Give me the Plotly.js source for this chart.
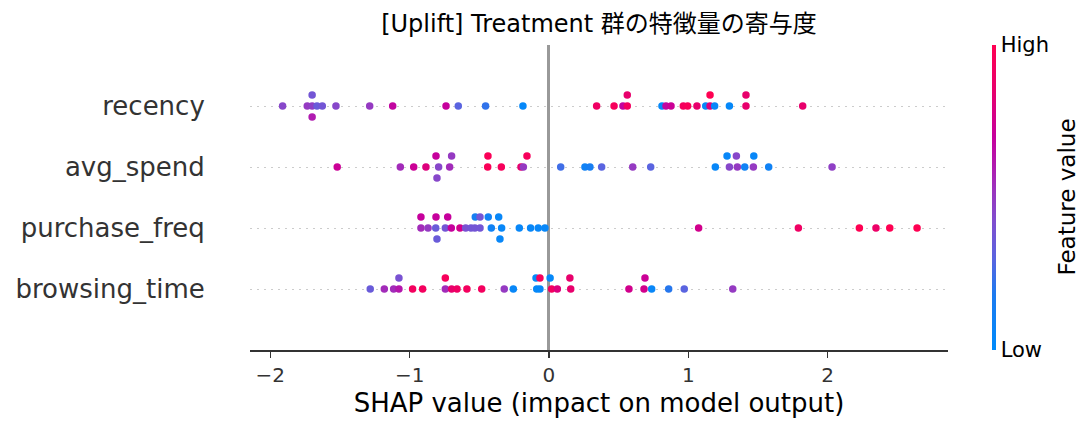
<!DOCTYPE html>
<html>
<head>
<meta charset="utf-8">
<script src="https://cdn.plot.ly/plotly-3.0.1.min.js"></script>
<style>html,body{margin:0;padding:0;background:#fff;}#chart{width:1092px;height:432px;}</style>
</head>
<body>
<div id="chart"></div>
<script>
// Features, top row first
const features = ['recency', 'avg_spend', 'purchase_freq', 'browsing_time'];

// SHAP values per feature
const recencyShap = [-1.912,-1.735,-1.700,-1.700,-1.700,-1.665,-1.627,-1.529,-1.287,-1.122,-0.739,-0.651,-0.455,-0.187,0.342,0.467,0.531,0.562,0.562,0.811,0.840,0.876,0.964,0.995,1.062,1.125,1.156,1.156,1.189,1.295,1.414,1.414,1.821];
const recencyFeat = [0.45,0.5,0.48,0.38,0.6,0.35,0.38,0.45,0.5,0.68,0.7,0.3,0.22,0.03,0.9,0.95,0.68,0.92,0.85,0.03,0.68,0.72,0.93,0.96,0.85,0.05,0.8,1.0,0.05,0.03,0.85,0.85,0.85];

const avgSpendShap = [-1.520,-1.067,-0.971,-0.883,-0.792,-0.811,-0.804,-0.713,-0.699,-0.440,-0.438,-0.342,-0.201,-0.184,-0.158,0.084,0.258,0.294,0.378,0.601,0.730,1.194,1.295,1.278,1.352,1.345,1.405,1.467,1.470,1.577,2.032];
const avgSpendFeat = [0.72,0.55,0.72,0.8,0.45,0.7,0.45,0.55,0.5,0.97,0.97,0.95,0.85,0.5,0.95,0.25,0.1,0.15,0.3,0.5,0.3,0.05,0.45,0.05,0.5,0.45,0.1,0.5,0.05,0.1,0.48];

const purchaseFreqShap = [-0.919,-0.919,-0.868,-0.813,-0.811,-0.804,-0.744,-0.727,-0.701,-0.639,-0.598,-0.560,-0.532,-0.529,-0.495,-0.495,-0.414,-0.436,-0.340,-0.361,-0.352,-0.213,-0.132,-0.077,-0.029,1.074,1.790,2.228,2.347,2.446,2.642];
const purchaseFreqFeat = [0.55,0.7,0.5,0.35,0.7,0.35,0.38,0.7,0.7,0.75,0.4,0.38,0.38,0.15,0.38,0.38,0.1,0.1,0.05,0.05,0.05,0.05,0.05,0.05,0.05,0.75,0.9,1.0,0.88,1.0,1.0];

const browsingTimeShap = [-1.283,-1.182,-1.115,-1.077,-1.077,-0.979,-0.907,-0.744,-0.744,-0.699,-0.660,-0.589,-0.483,-0.321,-0.256,-0.088,-0.093,-0.065,-0.065,0.019,0.008,0.060,0.156,0.150,0.574,0.682,0.689,0.737,0.859,0.971,1.319];
const browsingTimeFeat = [0.35,0.55,0.55,0.62,0.4,0.93,0.93,0.55,0.95,0.85,0.9,0.93,0.93,0.5,0.05,0.03,0.03,0.03,0.95,0.92,0.03,0.8,0.85,0.85,0.75,0.75,0.72,0.05,0.2,0.3,0.5];

const xTickVals = [-2, -1, 0, 1, 2];
const colorTickText = ['Low', 'High'];
const titleText = '[Uplift] Treatment 群の特徴量の寄与度';
const xTitle = 'SHAP value (impact on model output)';
const colorTitle = 'Feature value';

const shapByFeature = [recencyShap, avgSpendShap, purchaseFreqShap, browsingTimeShap];
const featByFeature = [recencyFeat, avgSpendFeat, purchaseFreqFeat, browsingTimeFeat];

// shap-style beeswarm jitter (deterministic order)
function beeswarm(vals, rowHeight) {
  const N = vals.length, nbins = 100;
  const mn = Math.min(...vals), mx = Math.max(...vals);
  const quant = vals.map(v => Math.round(nbins * (v - mn) / (mx - mn + 1e-8)));
  const inds = [...Array(N).keys()].sort((a, b) => (quant[a] - quant[b]) || (a - b));
  let layer = 0, last = -1;
  const ys = new Array(N).fill(0);
  for (const i of inds) {
    if (quant[i] !== last) layer = 0;
    ys[i] = Math.ceil(layer / 2) * ((layer % 2) * 2 - 1);
    layer++;
    last = quant[i];
  }
  const m = Math.max(...ys.map(y => y + 1));
  return ys.map(y => y * 0.9 * (rowHeight / m));
}

const nF = features.length;
const traces = features.map((f, i) => {
  const pos = nF - 1 - i;
  const off = beeswarm(shapByFeature[i], 0.4);
  return {
    type: 'scatter', mode: 'markers', name: f,
    x: shapByFeature[i],
    y: off.map(o => pos + o),
    marker: { size: 7.5, color: featByFeature[i], coloraxis: 'coloraxis', line: { width: 0 } },
    hoverinfo: 'x', showlegend: false
  };
});

const colorscale = [
  [0, '#008bfb'], [0.18, '#1c7bf0'], [0.3, '#5a64e0'], [0.42, '#7f4ecf'],
  [0.52, '#9a35bf'], [0.6, '#b01bb0'], [0.7, '#c6009c'], [0.85, '#e8006c'], [1, '#ff0052']
];

const layout = {
  width: 1092, height: 432,
  paper_bgcolor: '#ffffff', plot_bgcolor: '#ffffff',
  margin: { l: 250, r: 144, t: 45, b: 82 },
  font: { family: 'DejaVu Sans, "Noto Sans CJK JP", sans-serif', color: '#333333' },
  title: {
    text: titleText, x: 0.5, xref: 'paper', y: 1 - 24 / 432, yref: 'container', yanchor: 'middle',
    font: { size: 24, color: '#000000', family: 'DejaVu Sans, "Noto Sans CJK JP", sans-serif' }
  },
  xaxis: {
    range: [-2.146, 2.864], tickvals: xTickVals, zeroline: true, zerolinecolor: '#999999', zerolinewidth: 3,
    showgrid: false, showline: true, linecolor: '#333333', linewidth: 1.5,
    ticks: 'outside', ticklen: 6, tickwidth: 1.5, tickcolor: '#333333',
    tickfont: { size: 20, color: '#333333' },
    title: { text: xTitle, font: { size: 26, color: '#000000' }, standoff: 8 }
  },
  yaxis: {
    range: [-1, nF], tickvals: features.map((f, i) => nF - 1 - i), ticktext: features,
    showgrid: true, gridcolor: '#cccccc', griddash: '2px,5px', gridwidth: 1,
    zeroline: false, showline: false, ticks: 'outside', ticklen: 39, tickcolor: 'rgba(0,0,0,0)',
    tickfont: { size: 26, color: '#333333' }, fixedrange: true
  },
  coloraxis: {
    cmin: 0, cmax: 1, colorscale: colorscale,
    colorbar: {
      x: 992 / 1092, xref: 'container', xanchor: 'left', xpad: 0, ypad: 0,
      y: 0.5, yref: 'paper', yanchor: 'middle',
      len: 305, lenmode: 'pixels', thickness: 4, outlinewidth: 0,
      tickvals: [0, 1], ticktext: colorTickText, ticks: '', ticklen: 0,
      tickfont: { size: 21, color: '#000000' },
      title: { text: '' }
    }
  },
  annotations: [{
    text: colorTitle, xref: 'paper', yref: 'paper', x: (1066 - 250) / 698, y: 0.5,
    xanchor: 'center', yanchor: 'middle', textangle: -90, showarrow: false,
    font: { size: 23, color: '#000000' }
  }]
};

Plotly.newPlot('chart', traces, layout, { displayModeBar: false, staticPlot: true });
</script>
</body>
</html>
